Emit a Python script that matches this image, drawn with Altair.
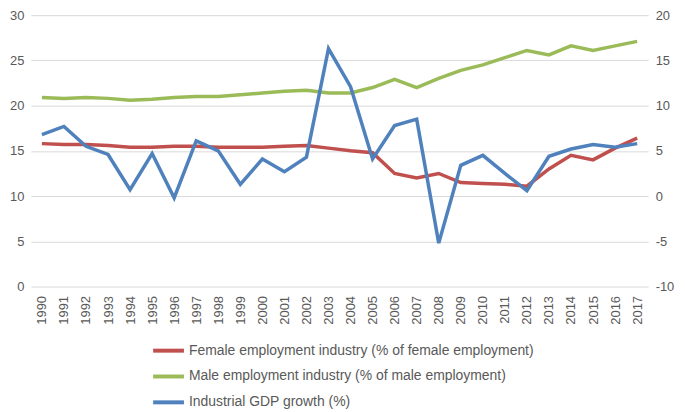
import altair as alt
import pandas as pd

years = list(range(1990, 2018))
female = [15.8, 15.7, 15.7, 15.6, 15.4, 15.4, 15.5, 15.5, 15.4, 15.4, 15.4, 15.5, 15.6, 15.3,
          15.0, 14.8, 12.5, 12.0, 12.5, 11.5, 11.4, 11.3, 11.1, 13.0, 14.5, 14.0, 15.3, 16.4]
male = [20.9, 20.8, 20.9, 20.8, 20.6, 20.7, 20.9, 21.0, 21.0, 21.2, 21.4, 21.6, 21.7, 21.4,
        21.4, 22.0, 22.9, 22.0, 23.0, 23.9, 24.5, 25.3, 26.1, 25.6, 26.6, 26.1, 26.6, 27.1]
gdp = [6.8, 7.7, 5.5, 4.6, 0.7, 4.7, -0.2, 6.1, 5.0, 1.3, 4.1, 2.7, 4.3, 16.3,
       12.1, 4.1, 7.8, 8.5, -5.2, 3.4, 4.5, 2.5, 0.6, 4.4, 5.2, 5.7, 5.4, 5.8]

names = ["Female employment industry (% of female employment)",
         "Male employment industry (% of male employment)",
         "Industrial GDP growth (%)"]
colors = ["#C0504D", "#9BBB59", "#4F81BD"]
left_ticks = [0, 5, 10, 15, 20, 25, 30]
right_ticks = [-10, -5, 0, 5, 10, 15, 20]

df_left = pd.DataFrame({
    "year": [str(y) for y in years] * 2,
    "series": [names[0]] * len(years) + [names[1]] * len(years),
    "value": female + male,
})
df_right = pd.DataFrame({
    "year": [str(y) for y in years],
    "series": [names[2]] * len(years),
    "value": gdp,
})

FONT = "Liberation Sans"
LBL = "#595959"

x_enc = alt.X("year:O", scale=alt.Scale(type="point", padding=0.5),
              axis=alt.Axis(title=None, labelAngle=270, ticks=False, domain=False,
                            grid=False, labelPadding=9, labelFontSize=13,
                            labelColor=LBL, labelFont=FONT))

color_enc = alt.Color("series:N", scale=alt.Scale(domain=names, range=colors),
                      legend=alt.Legend(title=None, orient="none", legendX=121, legendY=320,
                                        direction="vertical", symbolType="stroke",
                                        symbolStrokeWidth=4, symbolSize=961,
                                        labelFontSize=14, labelColor=LBL, labelFont=FONT,
                                        labelOffset=3, rowPadding=-2, labelLimit=600))

left = alt.Chart(df_left).mark_line(strokeWidth=3.5).encode(
    x=x_enc,
    y=alt.Y("value:Q", scale=alt.Scale(domain=[0, 30], nice=False),
            axis=alt.Axis(title=None, orient="left", values=left_ticks, grid=True,
                          gridColor="#d9d9d9", ticks=False, domain=False,
                          labelPadding=7, labelFontSize=13, labelColor=LBL, labelFont=FONT)),
    color=color_enc,
    detail="series:N",
)

right = alt.Chart(df_right).mark_line(strokeWidth=3.5).encode(
    x=x_enc,
    y=alt.Y("value:Q", scale=alt.Scale(domain=[-10, 20], nice=False),
            axis=alt.Axis(title=None, orient="right", values=right_ticks, grid=False,
                          ticks=False, domain=False,
                          labelExpr="datum.value < 0 ? '-' + abs(datum.value) : datum.label",
                          labelPadding=7, labelFontSize=13, labelColor=LBL, labelFont=FONT)),
    color=color_enc,
)

chart = alt.layer(left, right).resolve_scale(y="independent").properties(
    width=621, height=273,
    autosize=alt.AutoSizeParams(type="none"),
    padding={"left": 23, "top": 6, "right": 29, "bottom": 124},
).configure_view(stroke=None)

chart.save("out.html", embed_options={"renderer": "svg", "actions": False})
